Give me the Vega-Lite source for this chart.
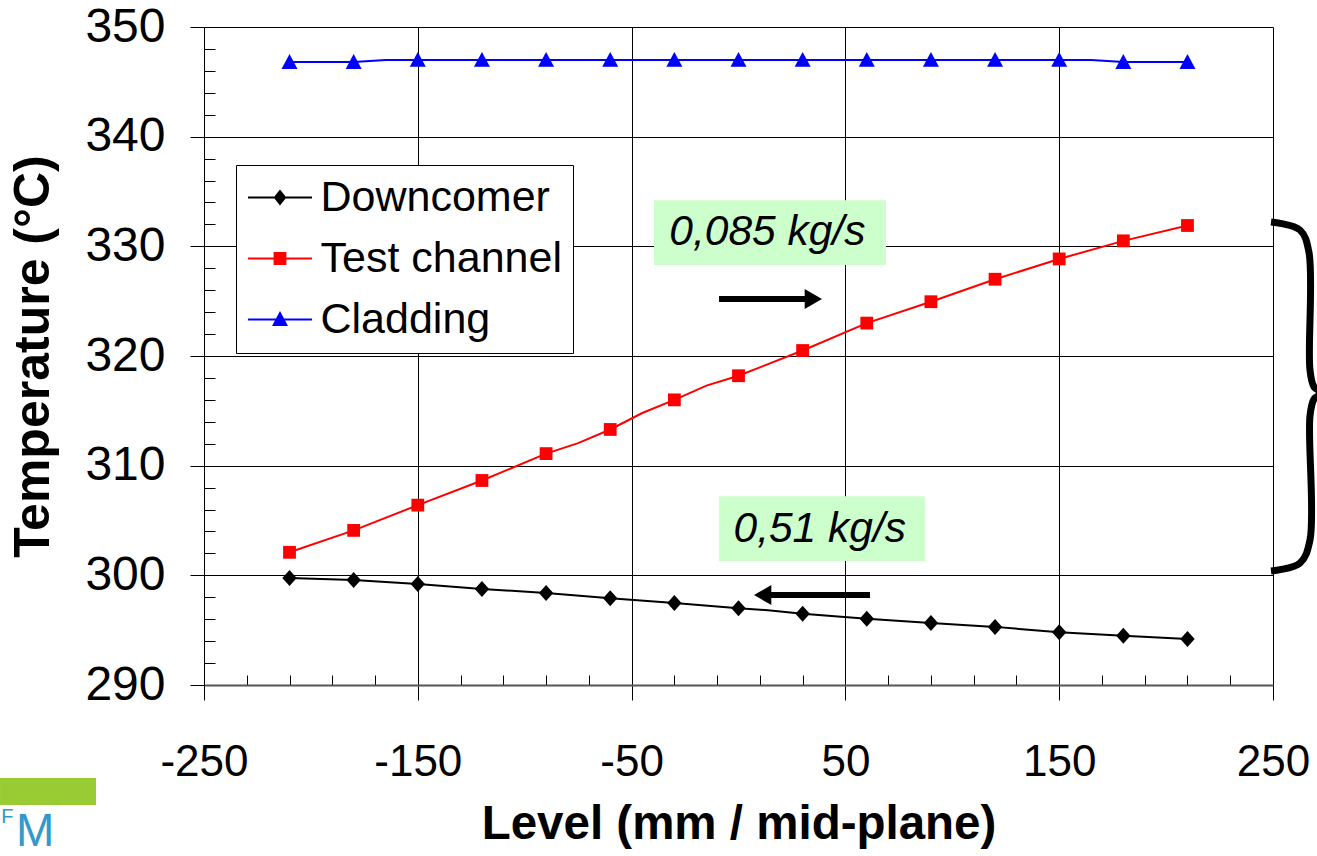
{
  "$schema": "https://vega.github.io/schema/vega-lite/v6.json",
  "width": 1069,
  "height": 658,
  "autosize": {"type": "none"},
  "padding": {"left": 204, "top": 27, "right": 44, "bottom": 171},
  "background": "white",
  "config": {"view": {"stroke": null}, "font": "Liberation Sans"},
  "datasets": {
    "curve": [
      {"series": "Downcomer", "level": -210, "temp": 299.75},
      {"series": "Downcomer", "level": -180, "temp": 299.57},
      {"series": "Downcomer", "level": -150, "temp": 299.2},
      {"series": "Downcomer", "level": -120, "temp": 298.75},
      {"series": "Downcomer", "level": -90, "temp": 298.4},
      {"series": "Downcomer", "level": -60, "temp": 297.9},
      {"series": "Downcomer", "level": -30, "temp": 297.48},
      {"series": "Downcomer", "level": 0, "temp": 297.0},
      {"series": "Downcomer", "level": 15, "temp": 296.8},
      {"series": "Downcomer", "level": 30, "temp": 296.5},
      {"series": "Downcomer", "level": 60, "temp": 296.05},
      {"series": "Downcomer", "level": 90, "temp": 295.65},
      {"series": "Downcomer", "level": 120, "temp": 295.3},
      {"series": "Downcomer", "level": 150, "temp": 294.8},
      {"series": "Downcomer", "level": 180, "temp": 294.5},
      {"series": "Downcomer", "level": 210, "temp": 294.2},
      {"series": "Test channel", "level": -210, "temp": 302.1},
      {"series": "Test channel", "level": -180, "temp": 304.1},
      {"series": "Test channel", "level": -150, "temp": 306.4},
      {"series": "Test channel", "level": -120, "temp": 308.65},
      {"series": "Test channel", "level": -90, "temp": 311.1},
      {"series": "Test channel", "level": -75, "temp": 312.05},
      {"series": "Test channel", "level": -60, "temp": 313.3},
      {"series": "Test channel", "level": -45, "temp": 314.8},
      {"series": "Test channel", "level": -30, "temp": 316.0},
      {"series": "Test channel", "level": -15, "temp": 317.3},
      {"series": "Test channel", "level": 0, "temp": 318.2},
      {"series": "Test channel", "level": 30, "temp": 320.5},
      {"series": "Test channel", "level": 60, "temp": 323.0},
      {"series": "Test channel", "level": 90, "temp": 324.95},
      {"series": "Test channel", "level": 120, "temp": 327.0},
      {"series": "Test channel", "level": 150, "temp": 328.85},
      {"series": "Test channel", "level": 180, "temp": 330.5},
      {"series": "Test channel", "level": 210, "temp": 331.9},
      {"series": "Cladding", "level": -210, "temp": 346.8},
      {"series": "Cladding", "level": -180, "temp": 346.8},
      {"series": "Cladding", "level": -165, "temp": 347.0},
      {"series": "Cladding", "level": -150, "temp": 347.0},
      {"series": "Cladding", "level": -120, "temp": 347.0},
      {"series": "Cladding", "level": -90, "temp": 347.0},
      {"series": "Cladding", "level": -60, "temp": 347.0},
      {"series": "Cladding", "level": -30, "temp": 347.0},
      {"series": "Cladding", "level": 0, "temp": 347.0},
      {"series": "Cladding", "level": 30, "temp": 347.0},
      {"series": "Cladding", "level": 60, "temp": 347.0},
      {"series": "Cladding", "level": 90, "temp": 347.0},
      {"series": "Cladding", "level": 120, "temp": 347.0},
      {"series": "Cladding", "level": 150, "temp": 347.0},
      {"series": "Cladding", "level": 165, "temp": 347.0},
      {"series": "Cladding", "level": 180, "temp": 346.8},
      {"series": "Cladding", "level": 210, "temp": 346.8}
    ],
    "boxes": [
      {"level": -39.5, "level2": 69, "temp": 334.2, "temp2": 328.3},
      {"level": -9.1, "level2": 87.2, "temp": 307.2, "temp2": 301.3}
    ],
    "notes": [
      {"level": 13.5, "temp": 331.3, "text": "0,085 kg/s"},
      {"level": 38, "temp": 304.27, "text": "0,51 kg/s"}
    ],
    "shafts": [
      {"level": -9.1, "level2": 31.6, "temp": 325.2},
      {"level": 15.2, "level2": 61.5, "temp": 298.2}
    ],
    "brace": [
      {"order": 1, "level": 249.07, "temp": 332.22},
      {"order": 2, "level": 262.6, "temp": 331.49},
      {"order": 3, "level": 266.8, "temp": 329.48},
      {"order": 4, "level": 267.3, "temp": 318.72},
      {"order": 5, "level": 269.2, "temp": 317.17},
      {"order": 6, "level": 272.9, "temp": 316.63},
      {"order": 7, "level": 269.2, "temp": 316.08},
      {"order": 8, "level": 267.3, "temp": 314.53},
      {"order": 9, "level": 267.3, "temp": 303.22},
      {"order": 10, "level": 262.6, "temp": 301.12},
      {"order": 11, "level": 249.07, "temp": 300.39}
    ]
  },
  "encoding": {
    "x": {
      "field": "level",
      "type": "quantitative",
      "scale": {"domain": [-250, 250], "nice": false, "zero": false},
      "axis": {
        "values": [-250, -230, -210, -190, -170, -150, -130, -110, -90, -70, -50, -30, -10, 10, 30, 50, 70, 90, 110, 130, 150, 170, 190, 210, 230, 250],
        "title": "Level (mm / mid-plane)",
        "labelExpr": "abs(datum.value) % 100 === 50 ? toString(datum.value) : ''",
        "labelFont": "Liberation Sans",
        "labelFontSize": 44,
        "labelColor": "#000000",
        "labelPadding": 40,
        "labelFlush": false,
        "labelOverlap": false,
        "tickSize": {"condition": {"test": "abs(datum.value) % 100 === 50", "value": 15}, "value": -10},
        "tickColor": "#000000",
        "tickWidth": 1,
        "grid": true,
        "gridColor": "#000000",
        "gridWidth": 1,
        "gridOpacity": {"condition": {"test": "abs(datum.value) % 100 === 50", "value": 1}, "value": 0},
        "domainColor": "#555555",
        "domainWidth": 2,
        "titleFont": "Liberation Sans",
        "titleFontSize": 47.5,
        "titleFontWeight": "bold",
        "titleColor": "#000000",
        "titlePadding": 16
      }
    },
    "y": {
      "field": "temp",
      "type": "quantitative",
      "scale": {"domain": [290, 350], "nice": false, "zero": false},
      "axis": {
        "values": [290, 292, 294, 296, 298, 300, 302, 304, 306, 308, 310, 312, 314, 316, 318, 320, 322, 324, 326, 328, 330, 332, 334, 336, 338, 340, 342, 344, 346, 348, 350],
        "title": "Temperature (°C)",
        "labelExpr": "datum.value % 10 === 0 ? toString(datum.value) : ''",
        "labelFont": "Liberation Sans",
        "labelFontSize": 48,
        "labelColor": "#000000",
        "labelPadding": 25,
        "labelFlush": false,
        "labelOverlap": false,
        "tickSize": {"condition": {"test": "datum.value % 10 === 0", "value": 14}, "value": -11},
        "tickColor": "#000000",
        "tickWidth": 1,
        "grid": true,
        "gridColor": "#000000",
        "gridWidth": 1,
        "gridOpacity": {"condition": {"test": "datum.value % 10 === 0", "value": 1}, "value": 0},
        "domainColor": "#000000",
        "domainWidth": 1,
        "titleFont": "Liberation Sans",
        "titleFontSize": 50,
        "titleFontWeight": "bold",
        "titleColor": "#000000",
        "titlePadding": 26
      }
    }
  },
  "layer": [
    {
      "data": {"name": "boxes"},
      "mark": {"type": "rect", "color": "#ccffcc"},
      "encoding": {
        "x2": {"field": "level2"},
        "y2": {"field": "temp2"}
      }
    },
    {
      "data": {"name": "notes"},
      "mark": {"type": "text", "font": "Liberation Sans", "fontSize": 42.5, "fontStyle": "italic", "align": "center", "baseline": "middle", "color": "#000000"},
      "encoding": {"text": {"field": "text"}}
    },
    {
      "data": {"name": "shafts"},
      "mark": {"type": "rule", "color": "#000000", "strokeWidth": 6},
      "encoding": {"x2": {"field": "level2"}}
    },
    {
      "data": {"values": [{"level": 35.0, "temp": 325.2}]},
      "mark": {"type": "point", "shape": "triangle-right", "filled": true, "size": 400, "color": "#000000", "opacity": 1},
      "encoding": {}
    },
    {
      "data": {"values": [{"level": 11.3, "temp": 298.2}]},
      "mark": {"type": "point", "shape": "triangle-left", "filled": true, "size": 400, "color": "#000000", "opacity": 1},
      "encoding": {}
    },
    {
      "data": {"name": "curve"},
      "transform": [{"filter": "datum.series === 'Downcomer'"}],
      "mark": {"type": "line", "strokeWidth": 2, "color": "#000000"},
      "encoding": {}
    },
    {
      "data": {"name": "curve"},
      "transform": [{"filter": "datum.series === 'Test channel'"}],
      "mark": {"type": "line", "strokeWidth": 2, "color": "#ff0000"},
      "encoding": {}
    },
    {
      "data": {"name": "curve"},
      "transform": [{"filter": "datum.series === 'Cladding'"}],
      "mark": {"type": "line", "strokeWidth": 2, "color": "#0000ff"},
      "encoding": {}
    },
    {
      "data": {"name": "curve"},
      "transform": [{"filter": "datum.series === 'Downcomer' && datum.level % 30 === 0"}],
      "mark": {"type": "point", "filled": true, "size": 256, "opacity": 1, "color": "#000000", "shape": "M0,-1L0.9,0L0,1L-0.9,0Z"},
      "encoding": {}
    },
    {
      "data": {"name": "curve"},
      "transform": [{"filter": "datum.series === 'Test channel' && datum.level % 30 === 0"}],
      "mark": {"type": "point", "filled": true, "size": 256, "opacity": 1, "color": "#ff0000", "shape": "M-0.8,-0.8H0.8V0.8H-0.8Z"},
      "encoding": {}
    },
    {
      "data": {"name": "curve"},
      "transform": [{"filter": "datum.series === 'Cladding' && datum.level % 30 === 0"}],
      "mark": {"type": "point", "filled": true, "size": 256, "opacity": 1, "color": "#0000ff", "shape": "M0,-1L1,0.85H-1Z"},
      "encoding": {}
    },
    {
      "data": {"values": []},
      "mark": {"type": "point", "filled": true, "opacity": 1},
      "encoding": {
        "color": {
          "field": "series",
          "type": "nominal",
          "scale": {"domain": ["Downcomer", "Test channel", "Cladding"], "range": ["#000000", "#ff0000", "#0000ff"]},
          "legend": {
            "orient": "none", "legendX": 32, "legendY": 138, "title": null, "direction": "vertical",
            "labelFont": "Liberation Sans", "labelFontSize": 43, "labelColor": "#000000", "labelLimit": 0, "labelOffset": 19,
            "symbolSize": 1024, "symbolStrokeWidth": 0, "symbolOpacity": 1, "symbolOffset": 11.5,
            "padding": 11, "rowPadding": 17, "strokeColor": "#000000", "fillColor": "#ffffff"
          }
        },
        "shape": {
          "field": "series",
          "type": "nominal",
          "scale": {
            "domain": ["Downcomer", "Test channel", "Cladding"],
            "range": [
              "M-2,-0.0625H2V0.0625H-2Z M0,-0.5L0.4,0L0,0.5L-0.4,0Z",
              "M-2,-0.0625H2V0.0625H-2Z M-0.4,-0.4H0.4V0.4H-0.4Z",
              "M-2,-0.0625H2V0.0625H-2Z M0,-0.53L0.5,0.4H-0.5Z"
            ]
          },
          "legend": {
            "orient": "none", "legendX": 32, "legendY": 138, "title": null, "direction": "vertical",
            "labelFont": "Liberation Sans", "labelFontSize": 43, "labelColor": "#000000", "labelLimit": 0, "labelOffset": 19,
            "symbolSize": 1024, "symbolStrokeWidth": 0, "symbolOpacity": 1, "symbolOffset": 11.5,
            "padding": 11, "rowPadding": 17, "strokeColor": "#000000", "fillColor": "#ffffff"
          }
        }
      }
    },
    {
      "data": {"name": "brace"},
      "mark": {"type": "line", "color": "#000000", "strokeWidth": 7, "interpolate": "catmull-rom"},
      "encoding": {"order": {"field": "order", "type": "quantitative"}}
    },
    {
      "data": {"values": [{"level": -345.4, "level2": -300.5, "temp": 281.52, "temp2": 279.06}]},
      "mark": {"type": "rect", "color": "#99cc33"},
      "encoding": {"x2": {"field": "level2"}, "y2": {"field": "temp2"}}
    },
    {
      "data": {"values": [{"level": -329, "temp": 275.3, "text": "M"}]},
      "mark": {"type": "text", "font": "Liberation Sans", "fontSize": 46, "align": "center", "baseline": "alphabetic", "color": "#3399cc"},
      "encoding": {"text": {"field": "text"}}
    },
    {
      "data": {"values": [{"level": -342, "temp": 277.4, "text": "F"}]},
      "mark": {"type": "text", "font": "Liberation Sans", "fontSize": 20, "align": "center", "baseline": "alphabetic", "color": "#3399cc"},
      "encoding": {"text": {"field": "text"}}
    }
  ]
}
